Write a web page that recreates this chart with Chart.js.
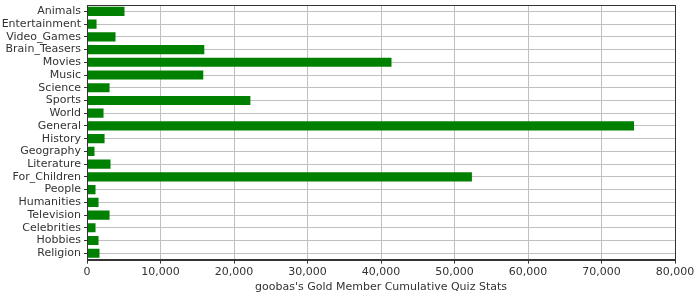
<!DOCTYPE html>
<html>
<head>
<meta charset="utf-8">
<script src="https://cdn.jsdelivr.net/npm/chart.js@4"></script>
<style>
  html, body { margin: 0; padding: 0; background: #fff; }
  #wrap { width: 700px; height: 300px; }
</style>
</head>
<body>
<div id="wrap"><canvas id="c" width="700" height="300"></canvas></div>
<script>
const categories = [
  "Animals", "Entertainment", "Video_Games", "Brain_Teasers", "Movies",
  "Music", "Science", "Sports", "World", "General", "History", "Geography",
  "Literature", "For_Children", "People", "Humanities", "Television",
  "Celebrities", "Hobbies", "Religion"
];

const quizStats = [
  5100, 1300, 3880, 15960, 41430,
  15820, 3070, 22230, 2250, 74430, 2390, 1020,
  3200, 52370, 1160, 1570, 3070,
  1160, 1570, 1700
];

const xTicks = [0, 10000, 20000, 30000, 40000, 50000, 60000, 70000, 80000];

const axisTitle = "goobas's Gold Member Cumulative Quiz Stats";

// frame round the plot area (top + right too)
const frame = {
  id: "frame",
  afterDraw(chart) {
    const { ctx, chartArea: a } = chart;
    ctx.save();
    ctx.strokeStyle = "#333";
    ctx.lineWidth = 1;
    ctx.strokeRect(Math.round(a.left) + 0.5, Math.round(a.top) + 0.5,
      Math.round(a.right - a.left), Math.round(a.bottom - a.top));
    ctx.restore();
  },
};

const font = { family: "DejaVu Sans", size: 11 };

new Chart(document.getElementById("c"), {
  type: "bar",
  data: {
    labels: categories,
    datasets: [{
      data: quizStats,
      backgroundColor: "#008000",
      borderWidth: 0,
      barPercentage: 0.72,
      categoryPercentage: 1,
    }],
  },
  options: {
    indexAxis: "y",
    responsive: false,
    animation: false,
    layout: { padding: { left: 0, right: 25, top: 5, bottom: 6 } },
    plugins: {
      legend: { display: false },
      tooltip: { enabled: false },
    },
    scales: {
      x: {
        min: 0,
        max: 80000,
        afterBuildTicks(axis) {
          axis.ticks = xTicks.map((v) => ({ value: v }));
        },
        ticks: {
          color: "#333",
          font,
          padding: 2,
          maxRotation: 0,
          callback: (v) => v.toLocaleString("en-US"),
        },
        grid: { color: "#c0c0c0", tickColor: "#333", tickLength: 4 },
        border: { color: "#333" },
        title: {
          display: true,
          text: axisTitle,
          color: "#333",
          font,
          padding: { top: 0, bottom: 0 },
        },
      },
      y: {
        offset: true,
        afterFit(axis) {
          axis.width = 87;
          // labels sit inside the offset band, no extra room needed
          axis.paddingTop = 0;
          axis.paddingBottom = 0;
        },
        ticks: { color: "#333", font, padding: 3, autoSkip: false },
        grid: { offset: false, color: "#c0c0c0", tickColor: "#333", tickLength: 3 },
        border: { color: "#333" },
      },
    },
  },
  plugins: [frame],
});
</script>
</body>
</html>
